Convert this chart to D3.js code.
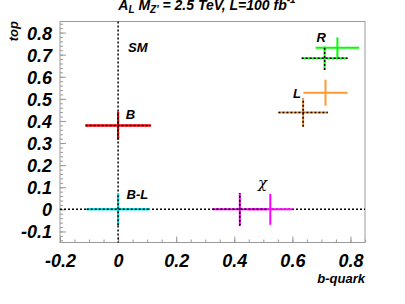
<!DOCTYPE html>
<html>
<head>
<meta charset="utf-8">
<script src="https://cdn.jsdelivr.net/npm/d3@7"></script>
<style>
  body { margin: 0; background: #fff; }
  svg text { font-family: "Liberation Sans", Arial, sans-serif; font-weight: bold; font-style: italic; }
</style>
</head>
<body>
<div id="chart"></div>
<script>
// model names and colours
const modelNames = ["B", "B-L", "\u03c7", "R", "L"];
const modelColors = ["#ff0000", "#00e0e0", "#ff00ff", "#00ff00", "#ff9933"];

// first point of each model (drawn dotted)
const dottedX = [0, 0, 0.419, 0.711, 0.637];
const dottedY = [0.379, 0, 0, 0.684, 0.438];
const dottedXErr = [0.112, 0.108, 0.094, 0.079, 0.085];
const dottedYErr = [0.063, 0.072, 0.074, 0.053, 0.064];

// second point of each model (drawn solid)
const solidX = [0, 0, 0.524, 0.755, 0.714];
const solidY = [0.379, 0, 0, 0.731, 0.528];
const solidXErr = [0.112, 0.108, 0.077, 0.075, 0.076];
const solidYErr = [0.063, 0.072, 0.070, 0.047, 0.059];

// axis ticks
const xMajorTicks = [-0.2, 0, 0.2, 0.4, 0.6, 0.8];
const yMajorTicks = [-0.1, 0, 0.1, 0.2, 0.3, 0.4, 0.5, 0.6, 0.7, 0.8];

// text labels next to the points (data coordinates)
const labelText = ["SM", "B", "B-L", "\u03c7", "R", "L"];
const labelX = [0.034, 0.026, 0.029, 0.482, 0.683, 0.602];
const labelY = [0.71, 0.408, 0.048, 0.097, 0.759, 0.503];

const MARGIN = { LEFT: 60, RIGHT: 40, TOP: 21.5, BOTTOM: 61.5 };
const WIDTH = 405, HEIGHT = 304;
const W = WIDTH - MARGIN.LEFT - MARGIN.RIGHT;
const H = HEIGHT - MARGIN.TOP - MARGIN.BOTTOM;

const svg = d3.select("#chart").append("svg")
    .attr("width", WIDTH)
    .attr("height", HEIGHT);

const g = svg.append("g")
    .attr("transform", `translate(${MARGIN.LEFT},${MARGIN.TOP})`);

const x = d3.scaleLinear().domain([-0.2, 0.85]).range([0, W]);
const y = d3.scaleLinear().domain([-0.15, 0.85]).range([H, 0]);

const fmt = d => String(+d.toFixed(1));

// minor ticks
const xMinor = d3.range(-0.2, 0.851, 0.05).map(v => +v.toFixed(2));
const yMinor = d3.range(-0.14, 0.851, 0.02).map(v => +v.toFixed(2));

g.append("g")
    .attr("transform", `translate(0,${H})`)
    .call(d3.axisBottom(x).tickValues(xMinor).tickSize(-3).tickFormat(""))
    .call(a => a.select(".domain").remove())
    .selectAll("line").attr("stroke", "#999");

g.append("g")
    .call(d3.axisLeft(y).tickValues(yMinor).tickSize(-3).tickFormat(""))
    .call(a => a.select(".domain").remove())
    .selectAll("line").attr("stroke", "#999");

// major ticks
const xAx = g.append("g")
    .attr("transform", `translate(0,${H})`)
    .call(d3.axisBottom(x).tickValues(xMajorTicks).tickSize(-6).tickFormat(fmt))
    .call(a => a.select(".domain").remove());
xAx.selectAll("line").attr("stroke", "#999");
xAx.selectAll("text")
    .attr("y", 24.5)
    .attr("dy", null)
    .attr("font-size", "18px")
    .attr("fill", "#000");

const yAx = g.append("g")
    .call(d3.axisLeft(y).tickValues(yMajorTicks).tickSize(-6).tickFormat(fmt))
    .call(a => a.select(".domain").remove());
yAx.selectAll("line").attr("stroke", "#999");
yAx.selectAll("text")
    .attr("x", -8)
    .attr("dy", "0.36em")
    .attr("font-size", "18px")
    .attr("fill", "#000");

// frame
g.append("rect")
    .attr("width", W)
    .attr("height", H)
    .attr("fill", "none")
    .attr("stroke", "#999")
    .attr("stroke-width", 1);

// SM reference lines
g.append("line")
    .attr("x1", x(0)).attr("x2", x(0))
    .attr("y1", 0).attr("y2", H)
    .attr("stroke", "#000").attr("stroke-width", 1.5)
    .attr("stroke-dasharray", "2,2");
g.append("line")
    .attr("x1", 0).attr("x2", W)
    .attr("y1", y(0)).attr("y2", y(0))
    .attr("stroke", "#000").attr("stroke-width", 1.5)
    .attr("stroke-dasharray", "2,2");

const solidPts = modelNames.map((n, i) => ({ x: solidX[i], y: solidY[i], ex: solidXErr[i], ey: solidYErr[i], c: modelColors[i] }));
const dottedPts = modelNames.map((n, i) => ({ x: dottedX[i], y: dottedY[i], ex: dottedXErr[i], ey: dottedYErr[i], c: modelColors[i] }));

function drawCross(sel, pts, dotted) {
    const cg = sel.selectAll(null).data(pts).enter().append("g");
    cg.append("line")
        .attr("x1", d => x(d.x - d.ex)).attr("x2", d => x(d.x + d.ex))
        .attr("y1", d => y(d.y)).attr("y2", d => y(d.y))
        .attr("stroke", d => d.c).attr("stroke-width", 2);
    cg.append("line")
        .attr("x1", d => x(d.x)).attr("x2", d => x(d.x))
        .attr("y1", d => y(d.y - d.ey)).attr("y2", d => y(d.y + d.ey))
        .attr("stroke", d => d.c).attr("stroke-width", 2);
    if (dotted) {
        cg.append("line")
            .attr("x1", d => x(d.x - d.ex)).attr("x2", d => x(d.x + d.ex))
            .attr("y1", d => y(d.y)).attr("y2", d => y(d.y))
            .attr("stroke", "#000").attr("stroke-width", 1.5)
            .attr("stroke-dasharray", "2,2");
        cg.append("line")
            .attr("x1", d => x(d.x)).attr("x2", d => x(d.x))
            .attr("y1", d => y(d.y - d.ey)).attr("y2", d => y(d.y + d.ey))
            .attr("stroke", "#000").attr("stroke-width", 1.5)
            .attr("stroke-dasharray", "2,2");
    }
}

drawCross(g, solidPts, false);
drawCross(g, dottedPts, true);

// labels
g.selectAll(".lbl")
    .data(labelText)
    .enter().append("text")
    .attr("class", "lbl")
    .attr("x", (d, i) => x(labelX[i]))
    .attr("y", (d, i) => y(labelY[i]))
    .attr("font-size", d => d === "\u03c7" ? "15px" : "13px")
    .style("font-weight", d => d === "\u03c7" ? "normal" : "bold")
    .style("font-family", d => d === "\u03c7" ? "'DejaVu Serif', serif" : null)
    .text(d => d);

// axis titles
svg.append("text")
    .attr("x", MARGIN.LEFT + W)
    .attr("y", 283)
    .attr("text-anchor", "end")
    .attr("font-size", "13px")
    .text("b-quark");

svg.append("text")
    .attr("transform", "translate(18,21) rotate(-90)")
    .attr("text-anchor", "end")
    .attr("font-size", "13px")
    .text("top");

// title
const title = svg.append("text")
    .attr("x", 207)
    .attr("y", 10)
    .attr("text-anchor", "middle")
    .attr("font-size", "14px");
title.append("tspan").text("A");
title.append("tspan").attr("font-size", "10px").attr("dy", 3).text("L");
title.append("tspan").attr("dy", -3).text(" M");
title.append("tspan").attr("font-size", "10px").attr("dy", 3).text("Z'");
title.append("tspan").attr("dy", -3).text(" = 2.5 TeV, L=100 fb");
title.append("tspan").attr("font-size", "10px").attr("dy", -7).text("-1");
</script>
</body>
</html>
